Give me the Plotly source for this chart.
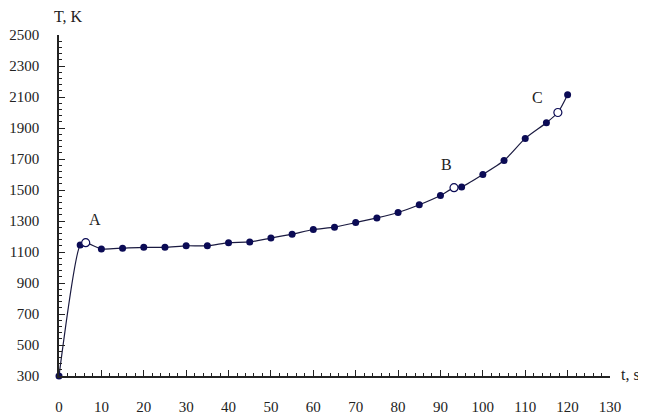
import plotly.graph_objects as go

# Data (t in s, T in K)
t_all = [0, 5, 6.3, 10, 15, 20, 25, 30, 35, 40, 45, 50, 55, 60, 65, 70, 75, 80, 85, 90, 93.2, 95, 100, 105, 110, 115, 117.7, 120]
T_all = [300, 1145, 1160, 1120, 1125, 1130, 1130, 1140, 1140, 1160, 1165, 1190, 1215, 1245, 1260, 1290, 1320, 1355, 1405, 1465, 1515, 1520, 1600, 1690, 1833, 1934, 2000, 2115]

t_open = [6.3, 93.2, 117.7]
T_open = [1160, 1515, 2000]
open_labels = ["A", "B", "C"]

t_closed = [t for t in t_all if t not in t_open]
T_closed = [T for t, T in zip(t_all, T_all) if t not in t_open]

x_ticks = list(range(0, 131, 10))
y_ticks = list(range(300, 2501, 200))

navy = "#0b0b55"
font_family = "Liberation Serif, Times New Roman, serif"

fig = go.Figure()
fig.add_trace(go.Scatter(x=t_all, y=T_all, mode="lines",
                         line=dict(color="#1a1a40", width=1.2, shape="spline", smoothing=0.6),
                         hoverinfo="skip", cliponaxis=False, showlegend=False))
fig.add_trace(go.Scatter(x=t_closed, y=T_closed, mode="markers",
                         marker=dict(color=navy, size=7, symbol="circle"),
                         cliponaxis=False, showlegend=False))
fig.add_trace(go.Scatter(x=t_open, y=T_open, mode="markers",
                         marker=dict(color="white", size=8, symbol="circle",
                                     line=dict(color=navy, width=1.2)),
                         cliponaxis=False, showlegend=False))

# point labels A, B, C
offsets = [(2.2, 85), (-1.7, 80), (-4.7, 30)]
for tx, ty, lab, (dx, dy) in zip(t_open, T_open, open_labels, offsets):
    fig.add_annotation(x=tx + dx, y=ty + dy, text=lab, showarrow=False,
                       xanchor="center", yanchor="bottom",
                       font=dict(family=font_family, size=16, color="#222"))

fig.add_annotation(x=0, y=1, xref="paper", yref="paper", text="T, K", showarrow=False,
                   xanchor="center", yanchor="bottom", yshift=8, xshift=9,
                   font=dict(family=font_family, size=16, color="#222"))
fig.add_annotation(x=1, y=0, xref="paper", yref="paper", text="t, s", showarrow=False,
                   xanchor="left", yanchor="middle", xshift=9, yshift=2,
                   font=dict(family=font_family, size=16, color="#222"))

fig.update_xaxes(range=[0, 130], tickvals=x_ticks, ticktext=[str(v) for v in x_ticks],
                 showgrid=False, zeroline=False, showline=True, linecolor="#222", linewidth=1.5,
                 ticks="inside", ticklen=6, tickwidth=1, tickcolor="#222",
                 minor=dict(dtick=2, tick0=0, ticks="inside", ticklen=3, tickcolor="#222"),
                 ticklabelstandoff=16, automargin=False,
                 tickfont=dict(family=font_family, size=15, color="#222"))
fig.update_yaxes(range=[300, 2500], tickvals=y_ticks, ticktext=[str(v) for v in y_ticks],
                 showgrid=False, zeroline=False, showline=True, linecolor="#222", linewidth=1.5,
                 ticks="inside", ticklen=6, tickwidth=1, tickcolor="#222",
                 minor=dict(dtick=40, tick0=300, ticks="inside", ticklen=3, tickcolor="#222"),
                 ticklabelstandoff=15, automargin=False,
                 tickfont=dict(family=font_family, size=15, color="#222"))

fig.update_layout(width=638, height=409, margin=dict(l=51, r=36, t=27, b=41),
                  plot_bgcolor="white", paper_bgcolor="white")

fig.write_html("out.html")
